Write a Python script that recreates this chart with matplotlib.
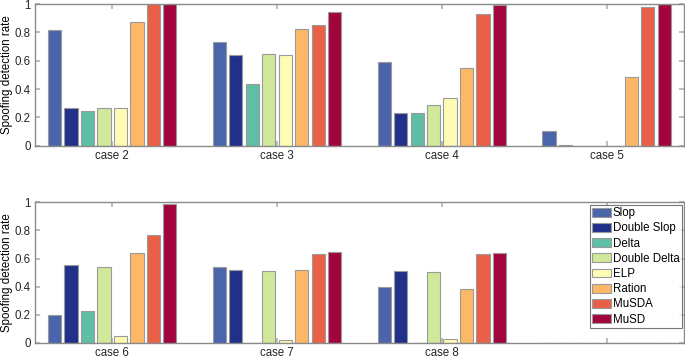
import matplotlib
matplotlib.use("Agg")
import matplotlib.pyplot as plt
import numpy as np

plt.rcParams['font.family'] = ['Liberation Sans', 'DejaVu Sans']

methods = ["Slop", "Double Slop", "Delta", "Double Delta", "ELP", "Ration", "MuSDA", "MuSD"]
colors = ["#4A65AC", "#21308A", "#5FBEA6", "#CFE89A", "#FFFBB5", "#FDB867", "#EA6047", "#A2043E"]

top_cases = ["case 2", "case 3", "case 4", "case 5"]
top_values = [
    [0.814, 0.730, 0.591, 0.101],   # Slop
    [0.268, 0.640, 0.231, 0.005],   # Double Slop
    [0.243, 0.435, 0.228, 0.0],     # Delta
    [0.268, 0.645, 0.287, 0.0],     # Double Delta
    [0.268, 0.640, 0.339, 0.0],     # ELP
    [0.871, 0.821, 0.550, 0.487],   # Ration
    [1.0, 0.854, 0.932, 0.979],     # MuSDA
    [1.0, 0.946, 0.993, 1.0],       # MuSD
]

bottom_cases = ["case 6", "case 7", "case 8", ""]
bottom_values = [
    [0.201, 0.538, 0.400, 0.0],     # Slop
    [0.557, 0.517, 0.509, 0.0],     # Double Slop
    [0.225, 0.0, 0.0, 0.0],         # Delta
    [0.538, 0.509, 0.502, 0.0],     # Double Delta
    [0.050, 0.019, 0.026, 0.0],     # ELP
    [0.642, 0.517, 0.384, 0.0],     # Ration
    [0.768, 0.635, 0.630, 0.0],     # MuSDA
    [0.990, 0.645, 0.637, 0.0],     # MuSD
]

yticks = [0, 0.2, 0.4, 0.6, 0.8, 1]
ytick_labels = ["0", "0.2", "0.4", "0.6", "0.8", "1"]

fig = plt.figure(figsize=(6.85, 3.59), dpi=100)
ax_top = fig.add_axes([0.0507, 0.594, 0.948, 0.3947])
ax_bot = fig.add_axes([0.0507, 0.0446, 0.948, 0.392])

spine_col = "#8a8a8a"
edge_col = "#9a9a9a"
FS = 8.3

def draw(ax, cases, values, legend=False):
    x = np.arange(1, len(cases) + 1)
    n = len(values)
    for i, (vals, c, m) in enumerate(zip(values, colors, methods)):
        ax.bar(x + (i - (n - 1) / 2) * 0.1, vals, width=0.08, color=c,
               edgecolor=edge_col, linewidth=0.8, label=m, zorder=2)
    ax.set_xlim(0.53, 4.47)
    ax.set_ylim(0, 1)
    ax.set_xticks(x)
    ax.set_xticklabels(cases, fontsize=FS)
    ax.set_yticks(yticks)
    ax.set_yticklabels(ytick_labels, fontsize=FS)
    ax.set_ylabel("Spoofing detection rate", fontsize=FS, labelpad=1)
    ax.tick_params(direction="in", length=3.5, width=1.2, color="#b0b0b0",
                   top=True, right=True, pad=3, labelcolor="#262626")
    for s in ax.spines.values():
        s.set_color(spine_col)
        s.set_linewidth(1.0)
    if legend:
        leg = ax.legend(loc="upper right", fontsize=FS, frameon=True, fancybox=False,
                        edgecolor="#555555", borderaxespad=0.22, handlelength=1.65,
                        handleheight=0.8, handletextpad=0.12, labelspacing=0.28,
                        borderpad=0.2)
        leg.get_frame().set_linewidth(0.8)

draw(ax_top, top_cases, top_values)
draw(ax_bot, bottom_cases, bottom_values, legend=True)

fig.savefig("out.png", dpi=100)
